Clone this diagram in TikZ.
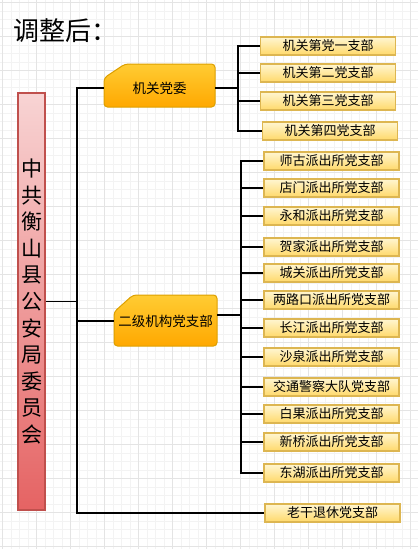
\documentclass[tikz,border=0pt]{standalone}
\usepackage{fontspec}
\setmainfont{Noto Sans CJK SC}
\definecolor{gridmin}{HTML}{F3F3F3}
\definecolor{gridmaj}{HTML}{E4E4E4}
\definecolor{redtop}{HTML}{F8D4D4}
\definecolor{redbot}{HTML}{E56363}
\definecolor{redline}{HTML}{C0504D}
\definecolor{orgtop}{HTML}{FFCC33}
\definecolor{orgbot}{HTML}{FFA800}
\definecolor{orgline}{HTML}{DDA000}
\definecolor{yeltop}{HTML}{FFF6D2}
\definecolor{yelbot}{HTML}{FFD96A}
\definecolor{yelline}{HTML}{DDB651}

\begin{document}
\begin{tikzpicture}[x=1pt, y=-1pt,
	conn/.style={line width=1.7pt, black},
	unitbox/.style={draw=yelline, line width=1.4pt, top color=yeltop, bottom color=yelbot,
		minimum width=135pt, minimum height=18pt, inner sep=0pt, font=\fontsize{13}{13}\selectfont},
	groupbox/.style={draw=orgline, line width=1pt, top color=orgtop, bottom color=orgbot, rounded corners=3.5pt},
	every node/.style={font=\fontsize{13.5}{14}\selectfont}]
	\useasboundingbox (0,0) rectangle (418,549);
	% background grid
	\foreach \i in {0,...,49} \draw[gridmin, line width=0.6pt] (2.5+8.5*\i,0) -- (2.5+8.5*\i,549);
	\foreach \i in {0,...,64} \draw[gridmin, line width=0.6pt] (0,2.5+8.5*\i) -- (418,2.5+8.5*\i);
	\foreach \i in {0,...,12} \draw[gridmaj, line width=0.8pt] (2.5+34*\i,0) -- (2.5+34*\i,549);
	\foreach \i in {0,...,16} \draw[gridmaj, line width=0.8pt] (0,2.5+34*\i) -- (418,2.5+34*\i);

	\node[anchor=west, font=\fontsize{26}{26}\selectfont] (title) at (10,31) {调整后：};

	% party committee
	\node[draw=redline, line width=1.4pt, top color=redtop, bottom color=redbot, minimum width=27pt,
		minimum height=417pt, inner sep=0pt, align=center, font=\fontsize{21}{26.6}\selectfont] (party) at (31.5,301.5)
		{中\\共\\衡\\山\\县\\公\\安\\局\\委\\员\\会};

	% two group boxes, top-left corner cut
	\path[groupbox] (104,78) -- (125,64) -- (215,64) -- (215,107) -- (104,107) -- cycle;
	\node[minimum width=111pt, minimum height=40pt, inner sep=0pt] (jgdw) at (159.5,88) {机关党委};
	\path[groupbox] (114,312) -- (133,295) -- (217,295) -- (217,346) -- (114,346) -- cycle;
	\node[minimum width=103pt, minimum height=40pt, inner sep=0pt] (ejjg) at (165.5,321) {二级机构党支部};

	% branches
	\foreach \n/\x/\y/\t in {1/328/46/机关第党一支部, 2/328/73/机关第二党支部, 3/328/101/机关第三党支部, 4/330/131/机关第四党支部}
		\node[unitbox] (jg\n) at (\x,\y) {\t};
	\foreach \n/\y/\t in {1/161/师古派出所党支部, 2/188/店门派出所党支部, 3/216/永和派出所党支部, 4/247/贺家派出所党支部,
		5/273/城关派出所党支部, 6/300/两路口派出所党支部, 7/328/长江派出所党支部, 8/357/沙泉派出所党支部,
		9/387/交通警察大队党支部, 10/414/白果派出所党支部, 11/442/新桥派出所党支部, 12/473/东湖派出所党支部}
		\node[unitbox] (pc\n) at (331.5,\y) {\t};
	\node[unitbox] (ltxx) at (332.5,513) {老干退休党支部};

	% connectors
	\coordinate (trunk) at (77,0);
	\coordinate (bus1) at (238,0);
	\coordinate (bus2) at (241,0);
	\draw[conn] (jgdw.west) -- (jgdw.west -| trunk) -- (ltxx.west -| trunk) -- (ltxx.west);
	\draw[conn] (party.east) -- (party.east -| trunk);
	\draw[conn] (ejjg.west) -- (ejjg.west -| trunk);

	\draw[conn] (jgdw.east) -- (jgdw.east -| bus1);
	\draw[conn] (jg1.west) -- (jg1.west -| bus1) -- (jg4.west -| bus1) -- (jg4.west);
	\foreach \n in {2,3} \draw[conn] (jg\n.west) -- (jg\n.west -| bus1);

	\draw[conn] ([yshift=6pt]ejjg.east) -- ([yshift=6pt]ejjg.east -| bus2);
	\draw[conn] (pc1.west) -- (pc1.west -| bus2) -- (pc12.west -| bus2) -- (pc12.west);
	\foreach \n in {2,...,11} \draw[conn] (pc\n.west) -- (pc\n.west -| bus2);
\end{tikzpicture}
\end{document}
